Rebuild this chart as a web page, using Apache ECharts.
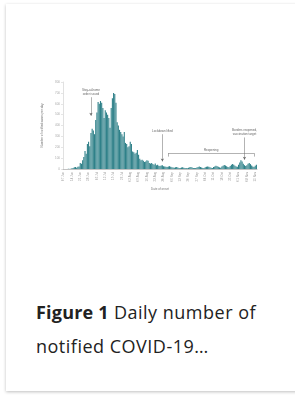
<!DOCTYPE html>
<html><head><meta charset="utf-8">
<script src="https://cdn.jsdelivr.net/npm/echarts@6/dist/echarts.min.js"></script>
<style>
html,body{margin:0;padding:0;width:295px;height:396px;overflow:hidden;background:#fff;}
#card{position:absolute;left:6px;top:4px;width:300px;height:387px;background:#fff;box-shadow:0 1px 3px rgba(0,0,0,0.25);}
#chart{position:absolute;left:0;top:0;width:295px;height:260px;}
#cap{position:absolute;left:36px;top:295px;width:255px;font-family:"Open Sans",sans-serif;font-size:18px;letter-spacing:0.5px;line-height:34px;color:#222;}
#cap b{font-weight:700;letter-spacing:0.2px;}
</style></head>
<body>
<div id="card"></div>
<div id="chart"></div>
<div id="cap"><b>Figure 1</b> Daily number of<br>notified COVID-19…</div>
<script>
// Weekly tick labels (one per 7 days)
const weekLabels = ['07 Jun','14 Jun','21 Jun','28 Jun','05 Jul','12 Jul','19 Jul','26 Jul','02 Aug','09 Aug','16 Aug','23 Aug','30 Aug','06 Sep','13 Sep','20 Sep','27 Sep','04 Oct','11 Oct','18 Oct','25 Oct','01 Nov','08 Nov','15 Nov'];
// Daily notified cases
const dailyCases = [
0,0,1,0,2,1,3,
6,10,15,18,12,20,22,
55,48,80,110,165,140,230,
250,210,330,370,355,320,450,
520,615,600,625,610,560,470,
540,520,500,470,380,560,650,
700,690,610,430,400,360,340,
320,300,340,240,230,200,210,
250,230,160,155,140,150,175,
130,95,80,85,75,65,70,
80,75,55,50,55,45,40,
50,35,38,30,28,32,35,
25,22,20,18,24,26,20,
15,14,12,16,18,14,10,
9,14,16,12,10,9,8,
12,15,18,14,10,8,9,
14,18,22,18,14,10,9,
16,20,24,20,15,12,10,
18,24,30,26,20,15,12,
22,30,36,32,25,18,15,
28,38,46,40,30,24,20,
40,60,80,70,48,35,28,
35,48,55,45,32,24,18,
30,40];
const yTicks = [0,100,200,300,400,500,600,700,800];
// Annotations: [day index, label y, arrow tip y, text]
const annotations = [
  [23, 660, 490, 'Stay-at-home\norder issued'],
  [83, 320, 70, 'Lockdown lifted'],
  [152, 290, 85, 'Borders reopened,\nvaccination target']
];
const bracket = {from: 88, to: 160, y: 146, tickY: 114, text: 'Reopening'};

const days = dailyCases.map((_, i) => i);
const chart = echarts.init(document.getElementById('chart'), null, {renderer:'canvas'});
const markData = [];
annotations.forEach(a => {
  markData.push([
    {coord:[a[0], a[1]], symbol:'none', label:{show:true, position:'start', formatter:a[3], fontSize:3, lineHeight:4, color:'#666', distance:1}},
    {coord:[a[0], a[2]], symbol:'arrow', symbolSize:[2.5,3]}
  ]);
});
markData.push([
  {coord:[bracket.from, bracket.y], symbol:'none', label:{show:true, position:'middle', formatter:bracket.text, fontSize:3, color:'#666', distance:1}},
  {coord:[bracket.to, bracket.y], symbol:'none'}
]);
markData.push([{coord:[bracket.from, bracket.y], symbol:'none', label:{show:false}},{coord:[bracket.from, bracket.tickY], symbol:'none'}]);
markData.push([{coord:[bracket.to, bracket.y], symbol:'none', label:{show:false}},{coord:[bracket.to, bracket.tickY], symbol:'none'}]);

chart.setOption({
  animation:false,
  grid:{left:63, right:38, top:82, bottom:91, containLabel:false},
  xAxis:{
    type:'category', data:days, boundaryGap:true,
    name:'Date of onset', nameLocation:'middle', nameGap:19,
    nameTextStyle:{fontSize:3, color:'#777'},
    axisLine:{lineStyle:{color:'#999', width:0.6}},
    axisTick:{show:false},
    axisLabel:{interval:0, rotate:90, fontSize:3, color:'#999', margin:3,
      formatter:(v, i) => (i % 7 === 0 ? weekLabels[i/7] : '')}
  },
  yAxis:{
    type:'value', min:yTicks[0], max:yTicks[yTicks.length-1], interval:100,
    name:'Number of notified cases per day', nameLocation:'middle', nameGap:11,
    nameTextStyle:{fontSize:3, color:'#777'},
    axisLine:{show:true, lineStyle:{color:'#ccc', width:0.6}},
    axisTick:{show:true, length:2, lineStyle:{color:'#ccc', width:0.5}},
    splitLine:{show:false},
    axisLabel:{fontSize:3, color:'#aaa', margin:3}
  },
  series:[{
    type:'bar', data:dailyCases, barCategoryGap:'8%',
    itemStyle:{color:'#2f8189'},
    markLine:{silent:true, symbol:['none','none'], lineStyle:{color:'#666', width:0.5, type:'solid'},
      label:{fontSize:3}, data:markData}
  }]
});
</script>
</body></html>
